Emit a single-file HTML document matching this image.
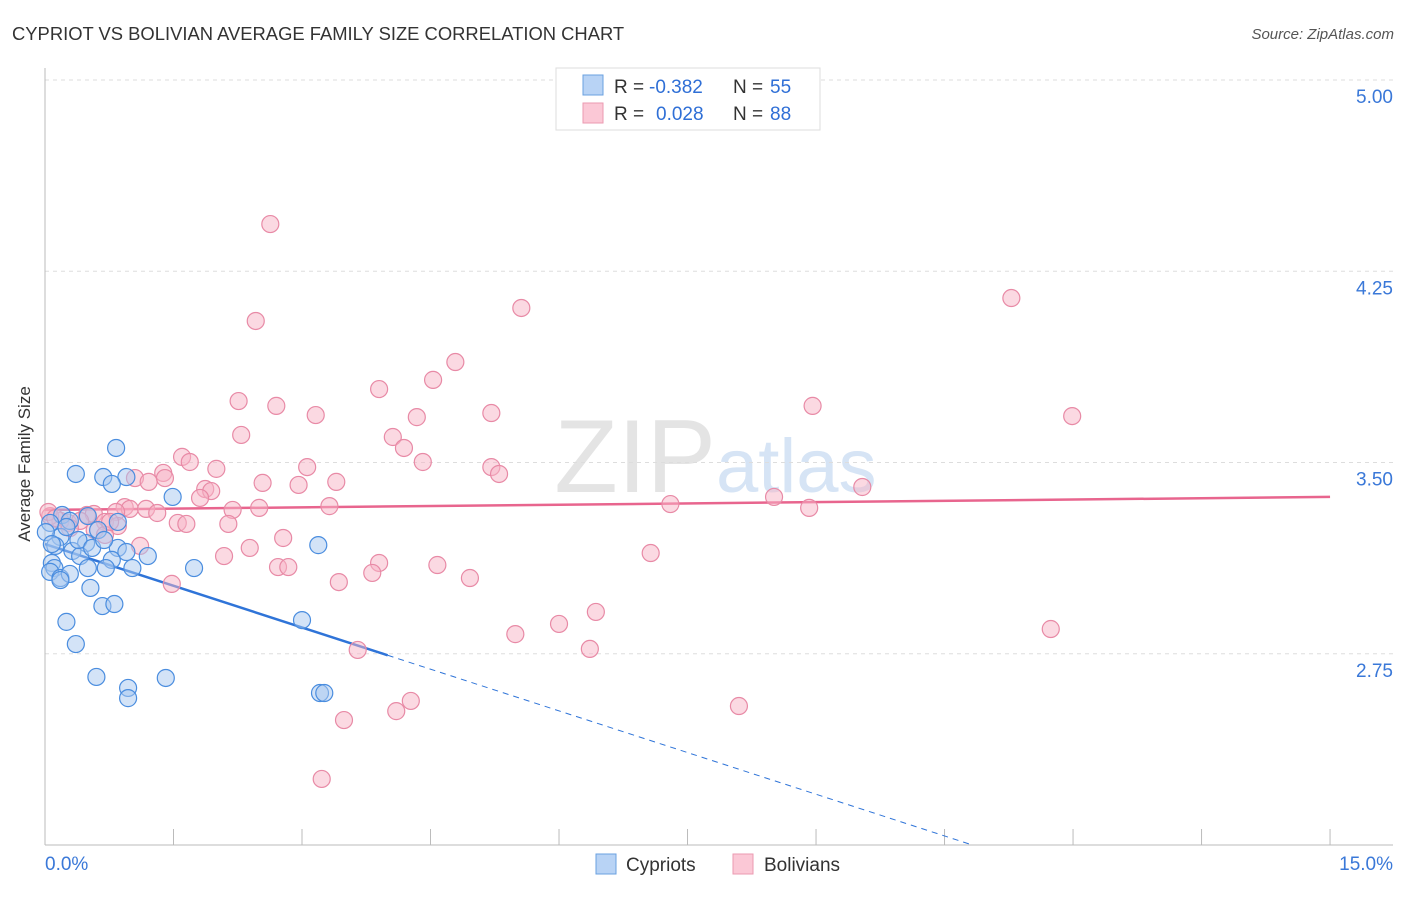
<!DOCTYPE html>
<html><head><meta charset="utf-8"><style>
body{margin:0;background:#fff;font-family:"Liberation Sans",sans-serif}
svg text{font-family:"Liberation Sans",sans-serif}
</style></head><body>
<svg id="chart" width="1406" height="892">
<text x="12" y="40" font-size="18.4" fill="#333">CYPRIOT VS BOLIVIAN AVERAGE FAMILY SIZE CORRELATION CHART</text>
<text x="1394" y="39" font-size="15" fill="#555" font-style="italic" text-anchor="end">Source: ZipAtlas.com</text>
<text x="716" y="492" font-size="104" fill="#e4e4e4" text-anchor="end" font-family="Liberation Serif">ZIP</text>
<text x="716" y="492" font-size="76" fill="#d6e4f5">atlas</text>
<g id="grid"></g><g id="axes"></g><g id="trends"></g><g id="pts"></g>
<g>
<rect x="556" y="68" width="264" height="62" fill="#fff" stroke="#ddd"/>
<rect x="583" y="75" width="20" height="20" fill="#b8d3f5" stroke="#6aa0e0"/>
<rect x="583" y="103" width="20" height="20" fill="#fbc8d6" stroke="#eb9ab0"/>
<text x="614" y="93" font-size="19" fill="#333">R =</text>
<text x="649" y="93" font-size="19" fill="#2f6fd6">-0.382</text>
<text x="733" y="93" font-size="19" fill="#333">N =</text>
<text x="770" y="93" font-size="19" fill="#2f6fd6">55</text>
<text x="614" y="120" font-size="19" fill="#333">R =</text>
<text x="656" y="120" font-size="19" fill="#2f6fd6">0.028</text>
<text x="733" y="120" font-size="19" fill="#333">N =</text>
<text x="770" y="120" font-size="19" fill="#2f6fd6">88</text>
</g>
<g>
<rect x="596" y="854" width="20" height="20" fill="#b8d3f5" stroke="#6aa0e0"/>
<text x="626" y="871" font-size="19" fill="#333">Cypriots</text>
<rect x="733" y="854" width="20" height="20" fill="#fbc8d6" stroke="#eb9ab0"/>
<text x="764" y="871" font-size="19" fill="#333">Bolivians</text>
</g>
<text x="22" y="456" font-size="17" fill="#333" transform="rotate(-90 30 456)" text-anchor="middle">Average Family Size</text>
</svg>
<script>
const yTicks=[5.00,4.25,3.50,2.75];
const yTickLabels=["5.00","4.25","3.50","2.75"];
const xTickLabels=["0.0%","15.0%"];
const cypX=[0.83,0.36,0.68,0.95,0.78,1.49,0.20,0.50,0.29,0.06,0.62,0.18,0.48,0.12,0.32,0.41,0.85,0.95,1.20,0.78,0.08,0.11,0.06,0.50,0.71,1.02,1.74,3.19,0.18,0.29,0.53,0.25,0.67,0.81,0.36,0.60,1.41,0.97,0.97,3.21,3.26,3.00,0.25,0.01,0.08,0.39,0.55,0.18,0.69,0.85];
const cypY=[3.557,3.455,3.443,3.443,3.416,3.365,3.294,3.290,3.271,3.263,3.235,3.208,3.184,3.173,3.153,3.133,3.165,3.149,3.133,3.118,3.106,3.086,3.071,3.086,3.086,3.086,3.086,3.176,3.047,3.063,3.008,2.875,2.937,2.945,2.788,2.659,2.655,2.616,2.576,2.596,2.596,2.882,3.247,3.227,3.180,3.196,3.165,3.039,3.196,3.267];
const bolX=[2.63,2.46,5.56,11.28,4.79,4.53,3.90,2.26,2.70,3.16,4.34,5.21,8.96,11.99,4.06,2.29,4.19,1.60,1.69,2.00,1.38,3.06,4.41,5.21,5.30,1.05,1.40,2.54,2.96,3.40,9.54,1.87,1.94,1.21,8.51,1.81,0.93,0.99,1.18,1.31,2.19,2.50,3.32,7.30,8.92,0.49,0.57,0.83,1.55,1.65,2.14,0.70,0.85,0.27,0.18,0.06,0.41,0.58,0.70,1.11,2.39,2.78,2.09,7.07,3.90,4.58,2.72,2.84,3.82,4.96,3.43,1.48,6.43,6.00,5.49,6.36,11.74,3.65,4.27,4.10,3.49,8.10,3.23,0.04,0.12,0.29,0.76];
const bolY=[4.435,4.055,4.106,4.145,3.894,3.824,3.788,3.741,3.722,3.686,3.678,3.694,3.722,3.682,3.600,3.608,3.557,3.522,3.502,3.475,3.459,3.482,3.502,3.482,3.455,3.439,3.439,3.420,3.412,3.424,3.404,3.396,3.388,3.424,3.365,3.361,3.325,3.318,3.318,3.302,3.314,3.322,3.329,3.337,3.322,3.294,3.298,3.306,3.263,3.259,3.259,3.267,3.251,3.263,3.271,3.290,3.271,3.235,3.216,3.173,3.165,3.204,3.133,3.145,3.106,3.098,3.090,3.090,3.067,3.047,3.031,3.024,2.914,2.867,2.827,2.769,2.847,2.765,2.565,2.525,2.490,2.545,2.259,3.306,3.282,3.243,3.267];
const cypTrend=[3.18,-0.109];
const bolTrend=[3.314,0.0034];
const NS="http://www.w3.org/2000/svg";
const sx=v=>45+v*85.67, sy=v=>80+(5-v)*255;
function mk(tag,attrs,parent){const e=document.createElementNS(NS,tag);for(const k in attrs)e.setAttribute(k,attrs[k]);parent.appendChild(e);return e;}
const grid=document.getElementById('grid'),axes=document.getElementById('axes'),tr=document.getElementById('trends'),pts=document.getElementById('pts');
yTicks.forEach((t,i)=>{
 const l=mk('line',{x1:45,x2:1393,y1:sy(t),y2:sy(t),stroke:'#ddd','stroke-dasharray':'4,4'},grid);
 
 
 const tx=mk('text',{x:1393,y:sy(t)+23,'font-size':19,fill:'#3a78d8','text-anchor':'end'},axes);
 tx.textContent=yTickLabels[i];
 
 
});
const ax=mk('line',{x1:45,x2:45,y1:68,y2:845,stroke:'#bbb'},axes);


const bx=mk('line',{x1:45,x2:1393,y1:845,y2:845,stroke:'#bbb'},axes);


for(let i=0;i<=10;i++){const t=mk('line',{x1:sx(i*1.5),x2:sx(i*1.5),y1:829,y2:845,stroke:'#bbb'},axes);
 
 }
const xl0=mk('text',{x:45,y:870,'font-size':19,fill:'#3a78d8'},axes);xl0.textContent=xTickLabels[0];


const xl1=mk('text',{x:1393,y:870,'font-size':19,fill:'#3a78d8','text-anchor':'end'},axes);xl1.textContent=xTickLabels[1];


function dots(X,Y,fill,stroke,name){X.forEach((x,i)=>{const c=mk('circle',{cx:sx(x),cy:sy(Y[i]),r:8.5,fill:fill,'fill-opacity':0.5,stroke:stroke,'stroke-width':1.2},pts);
 
 });}
dots(bolX,bolY,'#f7b3c6','#e88aa6','bolivian-point');
dots(cypX,cypY,'#a7c7f0','#4a8ddf','cypriot-point');
const f=(t,x)=>t[0]+t[1]*x;
const xEnd=(2-cypTrend[0])/cypTrend[1];
const c1=mk('line',{x1:sx(0),y1:sy(f(cypTrend,0)),x2:sx(4),y2:sy(f(cypTrend,4)),stroke:'#2f74d8','stroke-width':2.5},tr);


const c2=mk('line',{x1:sx(4),y1:sy(f(cypTrend,4)),x2:sx(xEnd),y2:sy(2),stroke:'#2f74d8','stroke-width':1,'stroke-dasharray':'6,5'},tr);


const b1=mk('line',{x1:sx(0),y1:sy(f(bolTrend,0)),x2:sx(15),y2:sy(f(bolTrend,15)),stroke:'#e8658e','stroke-width':2.5},tr);


</script>
</body></html>
